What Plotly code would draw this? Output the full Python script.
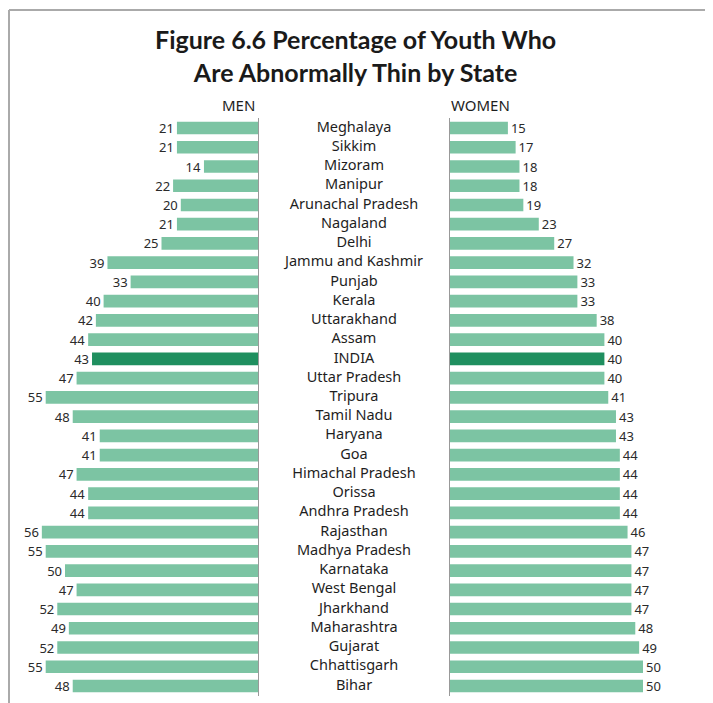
import plotly.graph_objects as go

states = [
    "Meghalaya", "Sikkim", "Mizoram", "Manipur", "Arunachal Pradesh", "Nagaland",
    "Delhi", "Jammu and Kashmir", "Punjab", "Kerala", "Uttarakhand", "Assam",
    "INDIA", "Uttar Pradesh", "Tripura", "Tamil Nadu", "Haryana", "Goa",
    "Himachal Pradesh", "Orissa", "Andhra Pradesh", "Rajasthan", "Madhya Pradesh",
    "Karnataka", "West Bengal", "Jharkhand", "Maharashtra", "Gujarat",
    "Chhattisgarh", "Bihar",
]
men = [21, 21, 14, 22, 20, 21, 25, 39, 33, 40, 42, 44, 43, 47, 55, 48, 41, 41,
       47, 44, 44, 56, 55, 50, 47, 52, 49, 52, 55, 48]
women = [15, 17, 18, 18, 19, 23, 27, 32, 33, 33, 38, 40, 40, 40, 41, 43, 43, 44,
         44, 44, 44, 46, 47, 47, 47, 47, 48, 49, 50, 50]

# the page body has an 8px margin, so the figure is drawn 8px in from the window
OFF = 8
W, H = 713 - OFF, 703 - OFF
LIGHT = "#7cc4a3"
DARK = "#1f8f5f"
colors = [DARK if s == "INDIA" else LIGHT for s in states]


def px(v):
    return min(1.0, max(0.0, (v - OFF) / W))


def py(v):
    return min(1.0, max(0.0, 1 - (v - OFF) / H))


px_per_unit = 3.86
men_left, axis_men, axis_women, women_right = 20, 258, 450, 700
y_top, y_bot = 118.4, 695.6
n = len(states)

fig = go.Figure()
for vals, xa, ya in [(men, "x", "y"), (women, "x2", "y2")]:
    fig.add_trace(go.Bar(
        x=vals, y=states, orientation="h", marker=dict(color=colors, line_width=0),
        text=vals, textposition="outside", cliponaxis=False, constraintext="none",
        textfont=dict(size=13, color="#2a2a2a", family="Noto Sans"),
        xaxis=xa, yaxis=ya, hoverinfo="skip",
    ))
fig.add_trace(go.Scatter(
    x=[0] * n, y=states, mode="text", text=states,
    textfont=dict(size=14.5, color="#1e1e1e", family="Noto Sans"),
    xaxis="x3", yaxis="y3", hoverinfo="skip",
))

yax = dict(domain=[py(y_bot), py(y_top)], type="category", categoryorder="array",
           categoryarray=states, range=[n - 0.5, -0.5], showticklabels=False,
           showgrid=False, zeroline=False, ticks="", fixedrange=True)

fig.update_layout(
    width=W, height=H, margin=dict(l=0, r=0, t=0, b=0),
    paper_bgcolor="white", plot_bgcolor="white", showlegend=False,
    bargap=0.34,
    xaxis=dict(domain=[px(men_left), px(axis_men)],
               range=[(axis_men - men_left) / px_per_unit, 0],
               visible=False, fixedrange=True),
    xaxis2=dict(domain=[px(axis_women), px(women_right)],
                range=[0, (women_right - axis_women) / px_per_unit],
                visible=False, fixedrange=True),
    xaxis3=dict(domain=[px(axis_men), px(axis_women)], range=[-1, 1],
                visible=False, fixedrange=True),
    yaxis=dict(yax, anchor="x", side="right", showline=True,
               linecolor="#999999", linewidth=1),
    yaxis2=dict(yax, anchor="x2", side="left", showline=True,
                linecolor="#999999", linewidth=1),
    yaxis3=dict(yax, anchor="x3", showline=False),
    annotations=[
        dict(text="<b>Figure 6.6 Percentage of Youth Who<br>Are Abnormally Thin by State</b>",
             x=px(355), y=py(56), xref="paper", yref="paper",
             xanchor="center", yanchor="middle", showarrow=False,
             font=dict(size=25, family="Lato", color="#1a1a1a")),
        dict(text="MEN", x=px(axis_men - 1), y=py(105), xref="paper", yref="paper",
             xanchor="right", yanchor="middle", showarrow=False,
             font=dict(size=15, family="Noto Sans", color="#1e1e1e")),
        dict(text="WOMEN", x=px(axis_women - 1), y=py(105), xref="paper", yref="paper",
             xanchor="left", yanchor="middle", showarrow=False,
             font=dict(size=15, family="Noto Sans", color="#1e1e1e")),
    ],
    shapes=[
        dict(type="line", xref="paper", yref="paper", x0=px(9), x1=px(9),
             y0=0, y1=py(10), line=dict(color="#aaaaaa", width=2)),
        dict(type="line", xref="paper", yref="paper", x0=px(9), x1=1,
             y0=py(10), y1=py(10), line=dict(color="#aaaaaa", width=2)),
    ],
)

fig.write_html("out.html")
